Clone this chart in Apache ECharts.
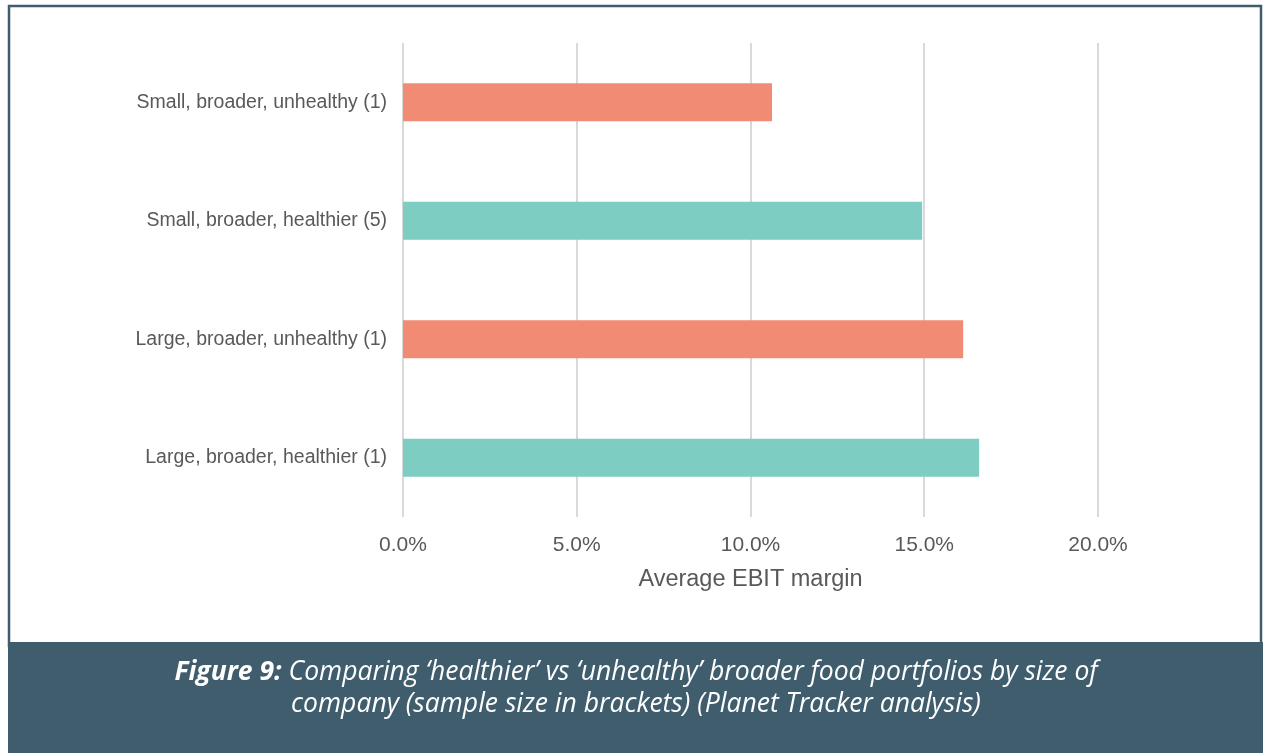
<!DOCTYPE html>
<html>
<head>
<meta charset="utf-8">
<script src="https://cdn.jsdelivr.net/npm/echarts@6/dist/echarts.min.js"></script>
<style>
html,body{margin:0;padding:0;background:#fff;}
#chart{width:1263px;height:753px;}
</style>
</head>
<body>
<div id="chart"></div>
<script>
const categories = [
  'Small, broader, unhealthy (1)',
  'Small, broader, healthier (5)',
  'Large, broader, unhealthy (1)',
  'Large, broader, healthier (1)'
];
const values = [0.1062, 0.1494, 0.1612, 0.1658];
const barColors = ['#f28b74', '#7dcdc2', '#f28b74', '#7dcdc2'];
const xTicks = { min: 0, max: 0.2, interval: 0.05 };
const axisTitle = 'Average EBIT margin';
const captionBold = 'Figure 9:';
const captionLine1 = ' Comparing \u2018healthier\u2019 vs \u2018unhealthy\u2019 broader food portfolios by size of';
const captionLine2 = 'company (sample size in brackets) (Planet Tracker analysis)';

const frameColor = '#3f5d6d';
const capFont = { fontFamily: 'Open Sans', fontStyle: 'italic', fontSize: 26.5, fill: '#ffffff' };
const chart = echarts.init(document.getElementById('chart'));
chart.setOption({
  backgroundColor: '#ffffff',
  animation: false,
  grid: { left: 403, right: 165, top: 43, bottom: 236, containLabel: false },
  xAxis: {
    type: 'value',
    min: xTicks.min, max: xTicks.max, interval: xTicks.interval,
    axisLine: { show: false },
    axisTick: { show: false },
    splitLine: { show: true, lineStyle: { color: '#d9d9d9', width: 2 } },
    axisLabel: {
      margin: 18,
      fontFamily: 'Liberation Sans',
      fontSize: 21, color: '#595959',
      formatter: v => (v * 100).toFixed(1) + '%'
    },
    name: axisTitle,
    nameLocation: 'middle',
    nameGap: 51,
    nameTextStyle: { fontFamily: 'Liberation Sans', fontSize: 23.5, color: '#595959' }
  },
  yAxis: {
    type: 'category',
    data: categories,
    inverse: true,
    axisLine: { show: false },
    axisTick: { show: false },
    splitLine: { show: false },
    axisLabel: {
      margin: 16,
      fontFamily: 'Liberation Sans',
      fontSize: 19.5, color: '#595959'
    }
  },
  series: [{
    type: 'bar',
    barWidth: 38,
    data: values.map((v, i) => ({ value: v, itemStyle: { color: barColors[i] } }))
  }],
  graphic: [
    { type: 'rect', shape: { x: 9, y: 6, width: 1252, height: 640 },
      style: { fill: 'none', stroke: frameColor, lineWidth: 2.5 }, z: 10 },
    { type: 'rect', shape: { x: 8, y: 642, width: 1255, height: 111 },
      style: { fill: frameColor }, z: 11 },
    { type: 'text', x: 636, y: 672, z: 12,
      style: {
        text: '{b|' + captionBold + '}{i|' + captionLine1 + '}',
        align: 'center', verticalAlign: 'middle',
        rich: {
          b: Object.assign({}, capFont, { fontWeight: 'bold' }),
          i: Object.assign({}, capFont)
        }
      }
    },
    { type: 'text', x: 636, y: 704, z: 12,
      style: Object.assign({ text: captionLine2, align: 'center', verticalAlign: 'middle' }, capFont)
    }
  ]
});
</script>
</body>
</html>
